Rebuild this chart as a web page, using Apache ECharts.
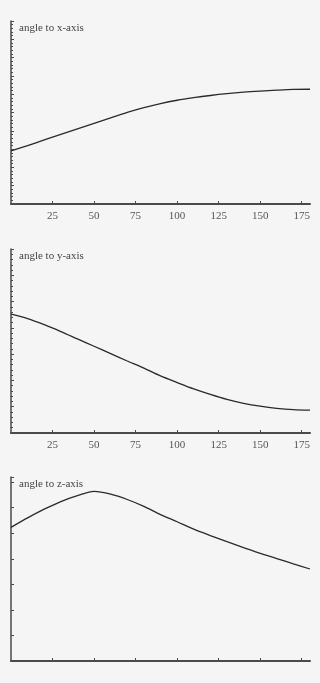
<!DOCTYPE html>
<html>
<head>
<meta charset="utf-8">
<script src="https://cdn.jsdelivr.net/npm/echarts@6/dist/echarts.min.js"></script>
<style>
html,body{margin:0;padding:0;background:#f5f5f5;}
#c{width:320px;height:683px;}
</style>
</head>
<body>
<div id="c"></div>
<script>
var xAngles = [0,10,20,30,40,50,60,70,80,90,100,110,120,130,140,150,160,170,180];
var xTickValues = [25,50,75,100,125,150,175];
var titles = ['angle to x-axis','angle to y-axis','angle to z-axis'];
var angleX = [29.0,31.9,35.0,38.1,41.1,44.1,47.1,50.1,52.7,54.9,56.7,58.1,59.3,60.3,61.1,61.7,62.2,62.6,62.7];
var angleY = [45.2,43.5,41.2,38.6,35.8,33.0,30.2,27.4,24.7,21.7,19.2,16.8,14.7,12.8,11.3,10.2,9.4,8.9,8.7];
var angleZ = [52.3,56.0,59.4,62.4,64.7,66.4,65.3,63.2,60.5,57.3,54.5,51.6,49.1,46.7,44.4,42.1,40.1,38.0,36.0];

var chart = echarts.init(document.getElementById('c'), null, {renderer:'canvas'});
var font = '"Liberation Serif", "DejaVu Serif", serif';
var axisCol = '#4a4a4a';
var grids = [
  {left:11, right:10, top:21, height:183},
  {left:11, right:10, top:249, height:184},
  {left:11, right:10, top:477, height:184}
];
var yCfg = [
  {max:100, interval:10, minor:true},
  {max:70, interval:10, minor:true},
  {max:72, interval:10, minor:false}
];
var series = [angleX, angleY, angleZ];
var showLabels = [true, true, false];

var xAxes = [], yAxes = [], ser = [], tts = [];
for (var i = 0; i < 3; i++) {
  xAxes.push({
    type:'value', gridIndex:i, min:0, max:180, interval:25,
    axisLine:{show:true, lineStyle:{color:axisCol, width:2}},
    axisTick:{show:true, inside:true, length:3, customValues:xTickValues, lineStyle:{color:axisCol, width:1}},
    axisLabel:{show:showLabels[i], customValues:xTickValues, color:'#555', fontFamily:font, fontSize:11, margin:7},
    splitLine:{show:false}
  });
  yAxes.push({
    type:'value', gridIndex:i, min:0, max:yCfg[i].max, interval:yCfg[i].interval,
    axisLine:{show:true, lineStyle:{color:axisCol, width:1.5}},
    axisTick:{show:true, inside:true, length:3, lineStyle:{color:axisCol, width:1}},
    minorTick:{show:yCfg[i].minor, splitNumber:5, length:2, lineStyle:{color:axisCol, width:1}},
    axisLabel:{show:false},
    splitLine:{show:false}
  });
  var d = [];
  for (var k = 0; k < xAngles.length; k++) d.push([xAngles[k], series[i][k]]);
  ser.push({
    type:'line', xAxisIndex:i, yAxisIndex:i, data:d, showSymbol:false, smooth:0.3,
    lineStyle:{color:'#2a2a2a', width:1.3}, animation:false
  });
  tts.push({
    text:titles[i], left:19, top:grids[i].top + 1.5, padding:0,
    textStyle:{fontFamily:font, fontSize:11, fontWeight:'normal', color:'#444'}
  });
}

chart.setOption({
  backgroundColor:'#f5f5f5',
  animation:false,
  title:tts,
  grid:grids,
  xAxis:xAxes,
  yAxis:yAxes,
  series:ser
});
</script>
</body>
</html>
